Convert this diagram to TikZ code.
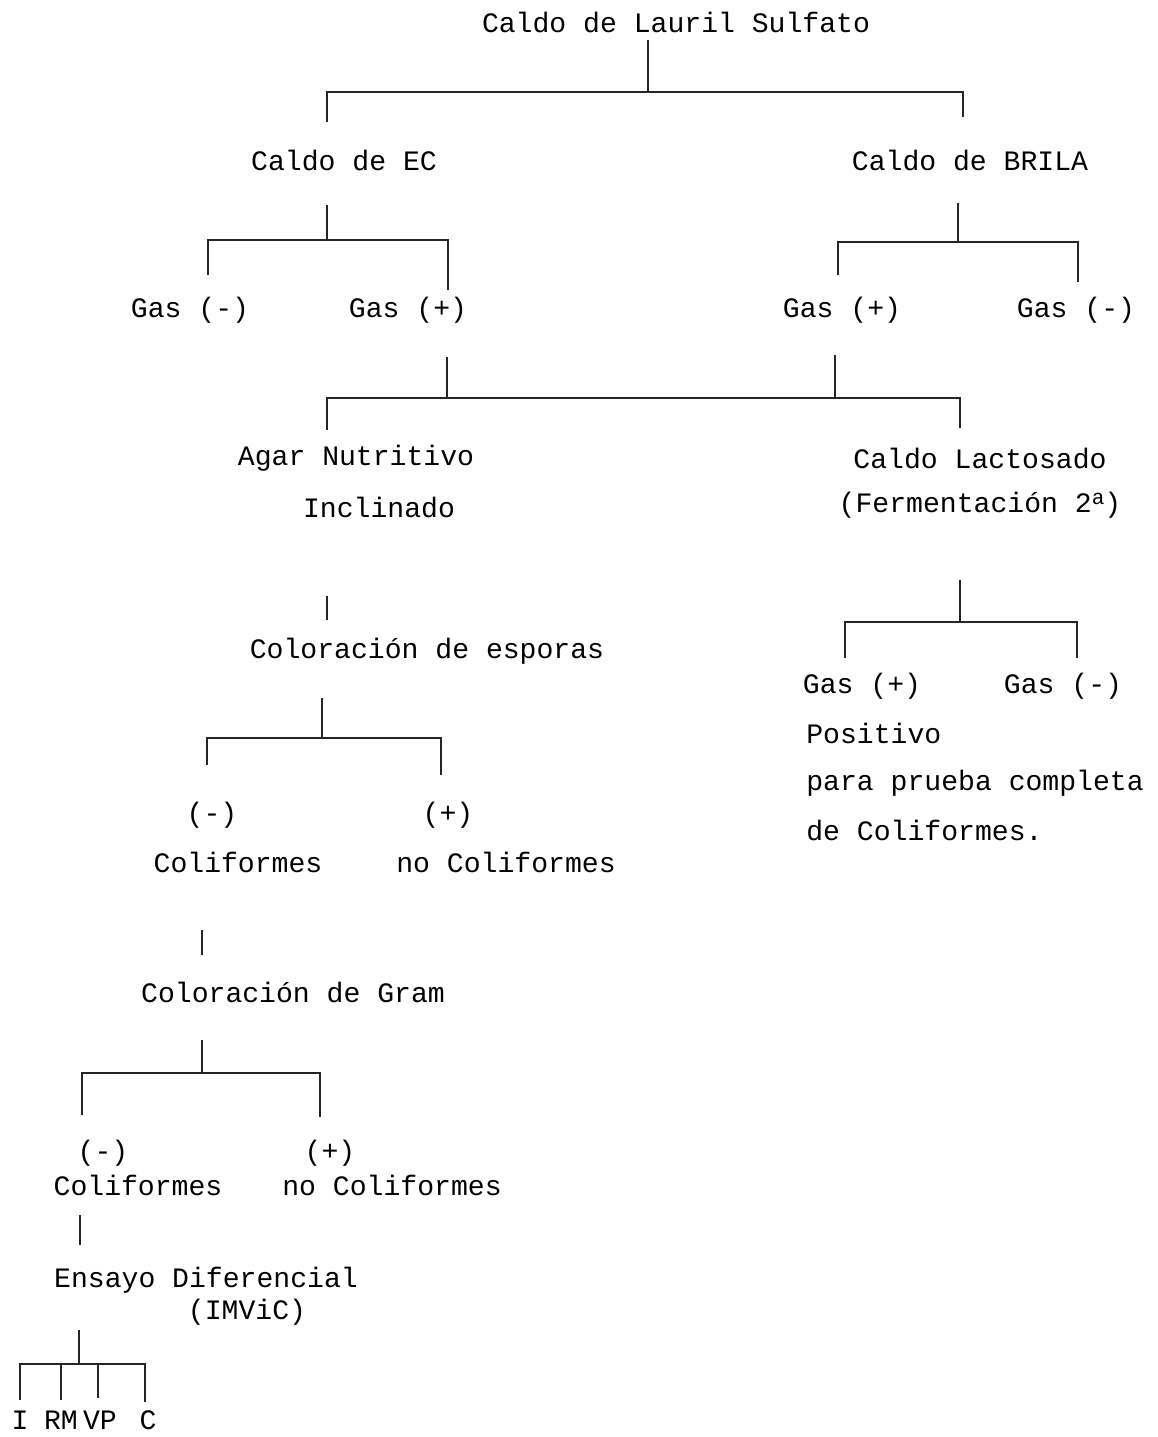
\documentclass[tikz,border=0pt]{standalone}
\usepackage{fontspec}
\setmainfont{Liberation Mono}
\begin{document}
\begin{tikzpicture}[x=0.02cm,y=-0.02cm,
  t/.style={inner sep=0pt, font=\fontsize{16}{19}\selectfont},
  tl/.style={t, anchor=west},
  ln/.style={line width=0.8pt, black!85}]
\useasboundingbox (0,0) rectangle (1158,1437);
% ---------- texts ----------
\node[t] (lauril) at (676,22) {Caldo de Lauril Sulfato};
\node[t] (ec) at (344,160) {Caldo de EC};
\node[t] (brila) at (970,160) {Caldo de BRILA};
\node[t] (ecneg) at (190,310) {Gas (-)};
\node[t] (ecpos) at (408,310) {Gas (+)};
\node[t] (brpos) at (842,310) {Gas (+)};
\node[t] (brneg) at (1076,310) {Gas (-)};
\node[t] (agar) at (356,458) {Agar Nutritivo};
\node[t] (incl) at (379,507) {Inclinado};
\node[t] (lact) at (980,458) {Caldo Lactosado};
\node[t] (ferm) at (980,505) {(Fermentación 2\raisebox{0.55ex}{\fontsize{12}{12}\selectfont a})};
\node[t] (esp) at (427,651) {Coloración de esporas};
\node[t] (espneg) at (212,815) {(-)};
\node[t] (esppos) at (448,815) {(+)};
\node[t] (espcol) at (238,862) {Coliformes};
\node[t] (espnocol) at (506,862) {no Coliformes};
\node[t] (gram) at (293,992) {Coloración de Gram};
\node[t] (grneg) at (103,1153) {(-)};
\node[t] (grpos) at (330,1153) {(+)};
\node[t] (grcol) at (138,1185) {Coliformes};
\node[t] (grnocol) at (392,1185) {no Coliformes};
\node[t] (ensayo) at (206,1280) {Ensayo Diferencial};
\node[t] (imvic) at (247,1312) {(IMViC)};
\node[t] (tI) at (20,1420) {I};
\node[t] (tRM) at (61,1420) {RM};
\node[t] (tVP) at (100,1420) {VP};
\node[t] (tC) at (148,1420) {C};
\node[t] (lpos) at (862,686) {Gas (+)};
\node[t] (lneg) at (1063,686) {Gas (-)};
\node[tl] (posit) at (806,733) {Positivo};
\node[tl] (para) at (806,783) {para prueba completa};
\node[tl] (decol) at (806,830) {de Coliformes.};
% ---------- connector points ----------
\coordinate (a1) at (648,40);  \coordinate (a2) at (648,92);
\coordinate (aL) at (327,92);  \coordinate (aR) at (963,92);
\coordinate (aLd) at (327,122); \coordinate (aRd) at (963,117);
\coordinate (b1) at (327,205); \coordinate (b2) at (327,240);
\coordinate (bL) at (208,240); \coordinate (bR) at (448,240);
\coordinate (bLd) at (208,275); \coordinate (bRd) at (448,290);
\coordinate (c1) at (958,203); \coordinate (c2) at (958,242);
\coordinate (cL) at (838,242); \coordinate (cR) at (1078,242);
\coordinate (cLd) at (838,275); \coordinate (cRd) at (1078,282);
\coordinate (d1) at (447,357); \coordinate (d2) at (447,398);
\coordinate (e1) at (835,355); \coordinate (e2) at (835,398);
\coordinate (dL) at (327,398); \coordinate (dR) at (960,398);
\coordinate (dLd) at (327,430); \coordinate (dRd) at (960,428);
\coordinate (f1) at (327,596); \coordinate (f2) at (327,620);
\coordinate (g1) at (322,698); \coordinate (g2) at (322,738);
\coordinate (gL) at (207,738); \coordinate (gR) at (441,738);
\coordinate (gLd) at (207,765); \coordinate (gRd) at (441,775);
\coordinate (h1) at (202,930); \coordinate (h2) at (202,955);
\coordinate (i1) at (202,1040); \coordinate (i2) at (202,1073);
\coordinate (iL) at (82,1073); \coordinate (iR) at (320,1073);
\coordinate (iLd) at (82,1115); \coordinate (iRd) at (320,1117);
\coordinate (k1) at (80,1215); \coordinate (k2) at (80,1245);
\coordinate (m1) at (79,1330); \coordinate (m2) at (79,1364);
\coordinate (mL) at (20,1364); \coordinate (mR) at (145,1364);
\coordinate (mAd) at (20,1400); \coordinate (mB) at (61,1364); \coordinate (mBd) at (61,1400);
\coordinate (mC) at (98,1364); \coordinate (mCd) at (98,1398); \coordinate (mDd) at (145,1402);
\coordinate (n1) at (960,580); \coordinate (n2) at (960,622);
\coordinate (nL) at (845,622); \coordinate (nR) at (1077,622);
\coordinate (nLd) at (845,658); \coordinate (nRd) at (1077,658);
% ---------- connectors ----------
\draw[ln] (a1) -- (a2);
\draw[ln] (aLd) -- (aL) -- (aR) -- (aRd);
\draw[ln] (b1) -- (b2);
\draw[ln] (bLd) -- (bL) -- (bR) -- (bRd);
\draw[ln] (c1) -- (c2);
\draw[ln] (cLd) -- (cL) -- (cR) -- (cRd);
\draw[ln] (d1) -- (d2);
\draw[ln] (e1) -- (e2);
\draw[ln] (dLd) -- (dL) -- (dR) -- (dRd);
\draw[ln] (f1) -- (f2);
\draw[ln] (g1) -- (g2);
\draw[ln] (gLd) -- (gL) -- (gR) -- (gRd);
\draw[ln] (h1) -- (h2);
\draw[ln] (i1) -- (i2);
\draw[ln] (iLd) -- (iL) -- (iR) -- (iRd);
\draw[ln] (k1) -- (k2);
\draw[ln] (m1) -- (m2);
\draw[ln] (mAd) -- (mL) -- (mR) -- (mDd);
\draw[ln] (mB) -- (mBd);
\draw[ln] (mC) -- (mCd);
\draw[ln] (n1) -- (n2);
\draw[ln] (nLd) -- (nL) -- (nR) -- (nRd);
\end{tikzpicture}
\end{document}
